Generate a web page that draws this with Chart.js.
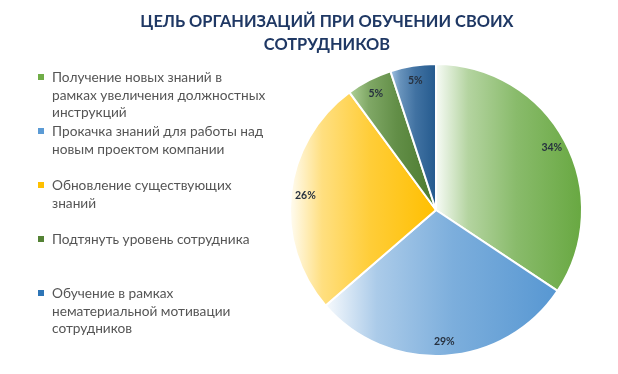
<!DOCTYPE html>
<html>
<head>
<meta charset="utf-8">
<script src="https://cdn.jsdelivr.net/npm/chart.js@4.4.1/dist/chart.umd.min.js"></script>
<style>
    html, body { margin: 0; padding: 0; background: #ffffff; }
    #wrap { position: relative; width: 618px; height: 374px; overflow: hidden; font-family: Lato, "Open Sans", sans-serif; }
    #pieChart { position: absolute; left: 0; top: 0; }
    #title { position: absolute; left: 77px; width: 500px; top: 9px; text-align: center; font-weight: bold; font-size: 16.4px; line-height: 23px; color: #1f3864; white-space: pre-line; }
    .item { position: absolute; left: 38px; padding-left: 14px; font-size: 13.7px; line-height: 17.5px; color: #555555; white-space: pre-line; }
    .item i { position: absolute; left: 0; top: 6px; width: 6px; height: 6px; }
</style>
</head>
<body>
<div id="wrap">
    <canvas id="pieChart" width="618" height="374"></canvas>
    <div id="title"></div>
    <div id="legend"></div>
</div>
<script>
const titleLines = ['ЦЕЛЬ ОРГАНИЗАЦИЙ ПРИ ОБУЧЕНИИ СВОИХ', 'СОТРУДНИКОВ'];
const labels = [
    'Получение новых знаний в\nрамках увеличения должностных\nинструкций',
    'Прокачка знаний для работы над\nновым проектом компании',
    'Обновление существующих\nзнаний',
    'Подтянуть уровень сотрудника',
    'Обучение в рамках\nнематериальной мотивации\nсотрудников'
];
const values = [34, 29, 26, 5, 5];

// left (light) and right (full) colours of each slice's gradient
const lightColors = ['#ffffff', '#ffffff', '#ffffff', '#b5d69e', '#a9c9e8'];
const fullColors = ['#68a841', '#5797d2', '#ffbf00', '#4b7a2e', '#245a8e'];
const legendColors = ['#70ad47', '#5b9bd5', '#ffc000', '#548235', '#2e75b6'];

document.getElementById('title').textContent = titleLines.join('\n');

// Legend
const legend = document.getElementById('legend');
labels.forEach((text, i) => {
    const div = document.createElement('div');
    div.className = 'item';
    div.style.top = (68 + 54 * i) + 'px';
    div.innerHTML = '<i style="background:' + legendColors[i] + '"></i>';
    div.appendChild(document.createTextNode(text));
    legend.appendChild(div);
});

function mix(a, b, t) {
    const pa = [1, 3, 5].map(k => parseInt(a.substr(k, 2), 16));
    const pb = [1, 3, 5].map(k => parseInt(b.substr(k, 2), 16));
    return 'rgb(' + pa.map((v, k) => Math.round(v + (pb[k] - v) * t)).join(',') + ')';
}

// Horizontal gradient across each slice's own width
const gradientPlugin = {
    id: 'sliceGradient',
    beforeDatasetsDraw(chart) {
        const ctx = chart.ctx;
        chart.getDatasetMeta(0).data.forEach((arc, i) => {
            const p = arc.getProps(['x', 'y', 'startAngle', 'endAngle', 'outerRadius'], true);
            const xs = [p.x, p.x + p.outerRadius * Math.cos(p.startAngle), p.x + p.outerRadius * Math.cos(p.endAngle)];
            [0, Math.PI, 2 * Math.PI].forEach(a => {
                if (a > p.startAngle && a < p.endAngle) xs.push(p.x + p.outerRadius * Math.cos(a));
            });
            const g = ctx.createLinearGradient(Math.min(...xs), 0, Math.max(...xs), 0);
            g.addColorStop(0, mix(lightColors[i], fullColors[i], 0.05));
            g.addColorStop(0.22, mix(lightColors[i], fullColors[i], 0.5));
            g.addColorStop(0.55, mix(lightColors[i], fullColors[i], 0.78));
            g.addColorStop(1, fullColors[i]);
            arc.options.backgroundColor = g;
        });
    }
};

// Percent labels inside the slices
const labelPlugin = {
    id: 'sliceLabels',
    afterDatasetsDraw(chart) {
        const ctx = chart.ctx;
        ctx.save();
        ctx.font = 'bold 10.5px Lato, sans-serif';
        ctx.fillStyle = '#27313f';
        ctx.textAlign = 'center';
        ctx.textBaseline = 'middle';
        chart.getDatasetMeta(0).data.forEach((arc, i) => {
            const p = arc.getProps(['x', 'y', 'startAngle', 'endAngle', 'outerRadius'], true);
            const mid = (p.startAngle + p.endAngle) / 2;
            const r = p.outerRadius * 0.9;
            ctx.fillText(values[i] + '%', p.x + r * Math.cos(mid), p.y + r * Math.sin(mid));
        });
        ctx.restore();
    }
};

const pieCtx = document.getElementById('pieChart').getContext('2d');
new Chart(pieCtx, {
    type: 'pie',
    data: {
        labels: labels,
        datasets: [{
            data: values,
            backgroundColor: (c) => fullColors[c.dataIndex],
            borderColor: '#ffffff',
            borderWidth: 2,
            hoverOffset: 0
        }]
    },
    options: {
        responsive: false,
        animation: false,
        layout: {
            padding: { left: 289, top: 63, right: 35, bottom: 17 }
        },
        plugins: {
            legend: { display: false },
            tooltip: { enabled: false }
        }
    },
    plugins: [gradientPlugin, labelPlugin]
});
</script>
</body>
</html>
